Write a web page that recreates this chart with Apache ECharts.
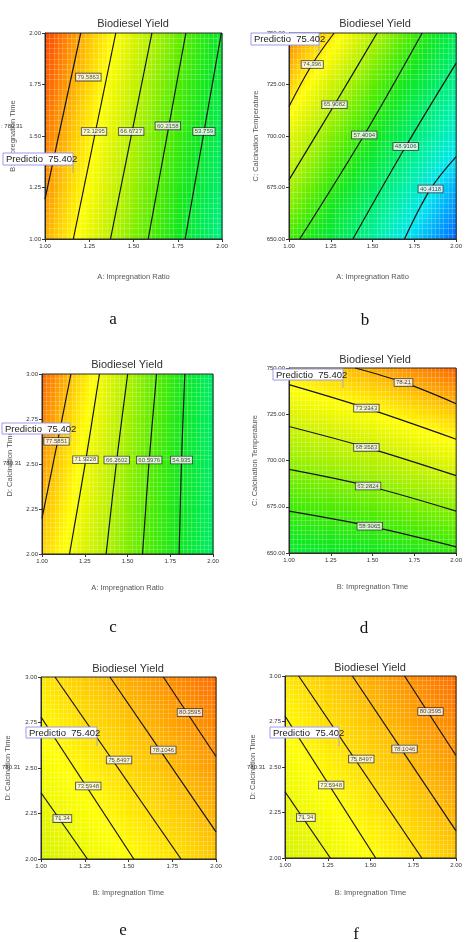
<!DOCTYPE html>
<html>
<head>
<meta charset="utf-8"/>
<title>Biodiesel Yield contours</title>
<script src="https://cdn.jsdelivr.net/npm/echarts@6/dist/echarts.min.js"></script>
<style>html,body{margin:0;padding:0;background:#fff}</style>
</head>
<body>
<div id="main" style="width:465px;height:942px"></div>
<script type="text/javascript">
// axis ticks
var ratioTicks = [1.00, 1.25, 1.50, 1.75, 2.00];
var impTimeTicks = [1.00, 1.25, 1.50, 1.75, 2.00];
var tempTicks = [650, 675, 700, 725, 750];
var calTimeTicks = [2.00, 2.25, 2.50, 2.75, 3.00];

// yield read at the tick nodes, rows bottom -> top, columns left -> right
var yieldA = [
    [78.7, 70.8, 62.9, 55.0, 47.1],
    [80.4, 72.5, 64.6, 56.7, 48.8],
    [82.0, 74.1, 66.3, 58.4, 50.5],
    [83.7, 75.8, 67.9, 60.0, 52.2],
    [85.3, 77.4, 69.6, 61.7, 53.8]
];
var yieldB = [
    [59.1, 52.4, 45.7, 38.8, 31.9],
    [65.6, 57.5, 50.5, 43.5, 36.2],
    [70.5, 63.2, 55.9, 48.5, 41.9],
    [76.6, 68.9, 61.0, 53.4, 46.5],
    [81.5, 75.1, 66.8, 58.9, 50.8]
];
var yieldC = [
    [76.2, 69.6, 62.9, 56.3, 49.7],
    [78.0, 70.8, 63.7, 56.7, 49.5],
    [79.7, 71.9, 64.5, 57.0, 49.4],
    [81.5, 73.3, 65.4, 57.5, 49.3],
    [83.3, 74.8, 66.3, 57.9, 49.3]
];
var yieldD = [
    [53.4, 54.1, 54.8, 56.2, 57.5],
    [58.8, 59.9, 60.9, 62.4, 63.9],
    [64.3, 65.5, 66.7, 68.6, 70.4],
    [69.7, 71.2, 72.7, 74.7, 76.7],
    [75.2, 77.1, 78.9, 81.0, 83.2]
];
var yieldEF = [
    [69.1, 71.1, 73.0, 75.0, 77.0],
    [70.5, 72.5, 74.5, 76.4, 78.4],
    [72.0, 73.9, 75.9, 77.9, 79.8],
    [73.4, 75.4, 77.3, 79.3, 81.2],
    [74.8, 76.8, 78.8, 80.7, 82.7]
];

// contour levels, contour paths and label spots
var levelsA = ['79.5863', '73.1295', '66.6727', '60.2158', '53.759'];
var contoursA = [
    [[1.000, 1.193], [1.202, 2.000]],
    [[1.160, 1.000], [1.400, 2.000]],
    [[1.370, 1.000], [1.604, 2.000]],
    [[1.583, 1.000], [1.796, 2.000]],
    [[1.792, 1.000], [1.996, 2.000]]
];
var labelPosA = [[1.245, 1.786], [1.277, 1.522], [1.487, 1.522], [1.694, 1.549], [1.898, 1.522]];

var levelsB = ['74.396', '65.9082', '57.4094', '48.9106', '40.4118'];
var contoursB = [
    [[1.000, 714.3], [1.137, 734.6], [1.270, 750]],
    [[1.000, 678.7], [1.272, 715.2], [1.527, 750]],
    [[1.064, 650], [1.450, 700.5], [1.797, 750]],
    [[1.382, 650], [1.698, 694.9], [2.000, 735.4]],
    [[1.691, 650], [1.847, 674.3], [2.000, 690.0]]
];
var labelPosB = [[1.139, 734.7], [1.272, 715.2], [1.450, 700.5], [1.698, 694.9], [1.847, 674.3]];

var levelsC = ['77.5851', '71.9228', '66.2602', '60.5976', '54.935'];
var contoursC = [
    [[1.000, 2.198], [1.091, 2.624], [1.169, 3.000]],
    [[1.161, 2.000], [1.256, 2.522], [1.336, 3.000]],
    [[1.375, 2.000], [1.437, 2.522], [1.501, 3.000]],
    [[1.588, 2.000], [1.627, 2.522], [1.670, 3.000]],
    [[1.802, 2.000], [1.816, 2.522], [1.835, 3.000]]
];
var labelPosC = [[1.085, 2.626], [1.254, 2.524], [1.437, 2.522], [1.627, 2.522], [1.816, 2.522]];

var levelsD = ['78.21', '73.2343', '68.2583', '63.2824', '58.3065'];
var contoursD = [
    [[1.396, 750], [1.685, 742.2], [2.000, 730.7]],
    [[1.000, 741.0], [1.463, 728.3], [2.000, 711.5]],
    [[1.000, 718.4], [1.463, 707.1], [2.000, 691.8]],
    [[1.000, 695.2], [1.473, 686.2], [2.000, 672.6]],
    [[1.000, 672.6], [1.483, 664.5], [2.000, 653.3]]
];
var labelPosD = [[1.685, 742.2], [1.463, 728.3], [1.463, 707.1], [1.473, 686.2], [1.483, 664.5]];

var levelsEF = ['71.34', '73.5948', '75.8497', '78.1046', '80.3595'];
var contoursEF = [
    [[1.000, 2.364], [1.265, 2.000]],
    [[1.000, 2.780], [1.530, 2.000]],
    [[1.080, 3.000], [1.800, 2.000]],
    [[1.394, 3.000], [2.000, 2.149]],
    [[1.699, 3.000], [2.000, 2.563]]
];
var labelPosEF = [[1.122, 2.222], [1.270, 2.401], [1.446, 2.544], [1.699, 2.599], [1.851, 2.805]];

// colour ramp of the response surface
var rampValues = [30, 35, 40, 45, 50, 55, 60, 65, 70, 73, 77, 80, 84, 88];
var rampColors = ['#0048ff', '#0098ff', '#00e4f0', '#00f0a8', '#00ec60', '#10e820', '#50ec00',
    '#a0f000', '#e0f400', '#ffff00', '#ffc800', '#ff9800', '#ff5800', '#ff2800'];

function hexRgb(h) {
    return [parseInt(h.substr(1, 2), 16), parseInt(h.substr(3, 2), 16), parseInt(h.substr(5, 2), 16)];
}
var rampRgb = rampColors.map(hexRgb);

function heatColor(v) {
    if (v <= rampValues[0]) return rampColors[0];
    for (var i = 1; i < rampValues.length; i++) {
        if (v <= rampValues[i]) {
            var t = (v - rampValues[i - 1]) / (rampValues[i] - rampValues[i - 1]);
            var a = rampRgb[i - 1], b = rampRgb[i];
            return 'rgb(' + Math.round(a[0] + (b[0] - a[0]) * t) + ',' +
                Math.round(a[1] + (b[1] - a[1]) * t) + ',' +
                Math.round(a[2] + (b[2] - a[2]) * t) + ')';
        }
    }
    return rampColors[rampColors.length - 1];
}

var FONT = "'Liberation Sans', Arial, sans-serif";

var panels = [
    {grid: {left: 45, top: 33, width: 177, height: 206}, xt: ratioTicks, yt: impTimeTicks,
        xName: 'A: Impregnation Ratio', yName: 'B: Impregnation Time', field: yieldA,
        levels: levelsA, lines: contoursA, labels: labelPosA,
        title: [133, 24], letter: ['a', 113, 320], xGap: 34, yGap: 28, pred: [3, 153, 70, 12], cross: [': 780.31', 1, 126]},
    {grid: {left: 289, top: 33, width: 173, height: 206}, xt: ratioTicks, yt: tempTicks,
        xName: 'A: Impregnation Ratio', yName: 'C: Calcination Temperature', field: yieldB,
        levels: levelsB, lines: contoursB, labels: labelPosB,
        title: [375, 24], letter: ['b', 365, 321], xGap: 34, yGap: 29, pred: [251, 33, 68, 12], cross: null},
    {grid: {left: 42, top: 374, width: 171, height: 180}, xt: ratioTicks, yt: calTimeTicks,
        xName: 'A: Impregnation Ratio', yName: 'D: Calcination Time', field: yieldC,
        levels: levelsC, lines: contoursC, labels: labelPosC,
        title: [127, 365], letter: ['c', 113, 628], xGap: 30, yGap: 28, pred: [2, 423, 68, 11], cross: ['780.31', 3, 463]},
    {grid: {left: 289, top: 368, width: 172, height: 185}, xt: impTimeTicks, yt: tempTicks,
        xName: 'B: Impregnation Time', yName: 'C: Calcination Temperature', field: yieldD,
        levels: levelsD, lines: contoursD, labels: labelPosD,
        title: [375, 360], letter: ['d', 364, 629], xGap: 30, yGap: 30, pred: [273, 369, 70, 11], cross: null},
    {grid: {left: 41, top: 677, width: 175, height: 182}, xt: impTimeTicks, yt: calTimeTicks,
        xName: 'B: Impregnation Time', yName: 'D: Calcination Time', field: yieldEF,
        levels: levelsEF, lines: contoursEF, labels: labelPosEF,
        title: [128, 669], letter: ['e', 123, 931], xGap: 30, yGap: 29, pred: [26, 727, 71, 11], cross: ['780.31', 2, 767]},
    {grid: {left: 285, top: 676, width: 171, height: 182}, xt: impTimeTicks, yt: calTimeTicks,
        xName: 'B: Impregnation Time', yName: 'D: Calcination Time', field: yieldEF,
        levels: levelsEF, lines: contoursEF, labels: labelPosEF,
        title: [370, 668], letter: ['f', 356, 935], xGap: 31, yGap: 28, pred: [270, 727, 69, 11], cross: ['780.31', 247, 767]}
];

function heatRender(p) {
    return function (params, api) {
        var i = api.value(2), j = api.value(3);
        var f = p.field;
        var v00 = f[j][i], v10 = f[j][i + 1], v01 = f[j + 1][i], v11 = f[j + 1][i + 1];
        var p0 = api.coord([p.xt[i], p.yt[j]]);
        var p1 = api.coord([p.xt[i + 1], p.yt[j + 1]]);
        var n = 10, kids = [];
        var w = (p1[0] - p0[0]) / n, h = (p0[1] - p1[1]) / n;
        for (var a = 0; a < n; a++) {
            for (var b = 0; b < n; b++) {
                var u = (a + 0.5) / n, t = (b + 0.5) / n;
                var v = v00 * (1 - u) * (1 - t) + v10 * u * (1 - t) + v01 * (1 - u) * t + v11 * u * t;
                kids.push({
                    type: 'rect',
                    shape: {x: p0[0] + a * w, y: p0[1] - (b + 1) * h, width: w + 0.6, height: h + 0.6},
                    style: {fill: heatColor(v)}
                });
            }
        }
        return {type: 'group', children: kids};
    };
}

var option = {animation: false, grid: [], xAxis: [], yAxis: [], series: [], graphic: []};

panels.forEach(function (p, k) {
    option.grid.push({left: p.grid.left, top: p.grid.top, width: p.grid.width, height: p.grid.height,
        show: true, backgroundColor: 'transparent', borderColor: '#2a2a2a', borderWidth: 1, z: 4});

    var axisCommon = function (ticks, name, gap) {
        return {
            gridIndex: k, type: 'value', min: ticks[0], max: ticks[ticks.length - 1], interval: ticks[1] - ticks[0],
            name: name, nameLocation: 'middle', nameGap: gap,
            nameTextStyle: {fontSize: 7.5, color: '#555', fontFamily: FONT},
            axisLine: {show: true, onZero: false, lineStyle: {color: '#333', width: 1}},
            axisTick: {show: true, length: 3, lineStyle: {color: '#333'}},
            axisLabel: {fontSize: 6, color: '#333', margin: 4, fontFamily: FONT,
                formatter: function (v) { return v.toFixed(2); }},
            splitLine: {show: false},
            minorTick: {show: false, splitNumber: 10},
            minorSplitLine: {show: true, lineStyle: {color: 'rgba(255,255,255,0.2)', width: 1}},
            z: 3
        };
    };
    option.xAxis.push(axisCommon(p.xt, p.xName, p.xGap));
    option.yAxis.push(axisCommon(p.yt, p.yName, p.yGap));

    var cells = [];
    for (var i = 0; i < 4; i++) {
        for (var j = 0; j < 4; j++) cells.push([p.xt[i], p.yt[j], i, j]);
    }
    option.series.push({type: 'custom', xAxisIndex: k, yAxisIndex: k, silent: true, z: 1,
        encode: {x: 0, y: 1}, renderItem: heatRender(p), data: cells});

    p.lines.forEach(function (line) {
        option.series.push({type: 'line', xAxisIndex: k, yAxisIndex: k, data: line, silent: true,
            smooth: line.length > 2 ? 0.35 : false, symbol: 'none',
            lineStyle: {color: '#151515', width: 1.2}, z: 5});
    });

    option.series.push({type: 'scatter', xAxisIndex: k, yAxisIndex: k, silent: true, z: 6,
        symbolSize: 1, itemStyle: {color: 'rgba(0,0,0,0)'},
        data: p.labels.map(function (pt, i) { return [pt[0], pt[1], p.levels[i]]; }),
        label: {show: true, position: 'inside', formatter: function (d) { return d.value[2]; },
            fontSize: 6, color: '#222', fontFamily: FONT, backgroundColor: '#fff',
            borderColor: '#222', borderWidth: 0.8, padding: [1, 1.5, 0, 1.5]}});

    // title, panel letter, prediction flag
    option.graphic.push({type: 'text', x: p.title[0], y: p.title[1], z: 100, silent: true,
        style: {text: 'Biodiesel Yield', fill: '#333', font: '11px ' + FONT,
            textAlign: 'center', textVerticalAlign: 'middle', align: 'center', verticalAlign: 'middle'}});
    option.graphic.push({type: 'text', x: p.letter[1], y: p.letter[2], z: 100, silent: true,
        style: {text: p.letter[0], fill: '#111', font: "17px 'Liberation Serif', 'Times New Roman', serif",
            textAlign: 'center', textVerticalAlign: 'middle', align: 'center', verticalAlign: 'middle'}});
    var b = p.pred;
    option.graphic.push({type: 'rect', z: 100, silent: true,
        shape: {x: b[0], y: b[1], width: b[2], height: b[3]},
        style: {fill: '#fff', stroke: '#9c9ce8', lineWidth: 1}});
    option.graphic.push({type: 'line', z: 100, silent: true,
        shape: {x1: b[0] + b[2], y1: b[1] + b[3], x2: b[0] + b[2], y2: b[1] + b[3] + 8},
        style: {stroke: '#aaa', lineWidth: 1}});
    option.graphic.push({type: 'text', x: b[0] + 3, y: b[1] + b[3] / 2 + 0.5, z: 101, silent: true,
        style: {text: 'Predictio  75.402', fill: '#222', font: '9.5px ' + FONT,
            textAlign: 'left', textVerticalAlign: 'middle', align: 'left', verticalAlign: 'middle'}});
    if (p.cross) {
        option.graphic.push({type: 'text', x: p.cross[1], y: p.cross[2], z: 100, silent: true,
            style: {text: p.cross[0], fill: '#333', font: '6px ' + FONT,
                textAlign: 'left', textVerticalAlign: 'middle', align: 'left', verticalAlign: 'middle'}});
    }
});

var myChart = echarts.init(document.getElementById('main'));
myChart.setOption(option);
</script>
</body>
</html>
